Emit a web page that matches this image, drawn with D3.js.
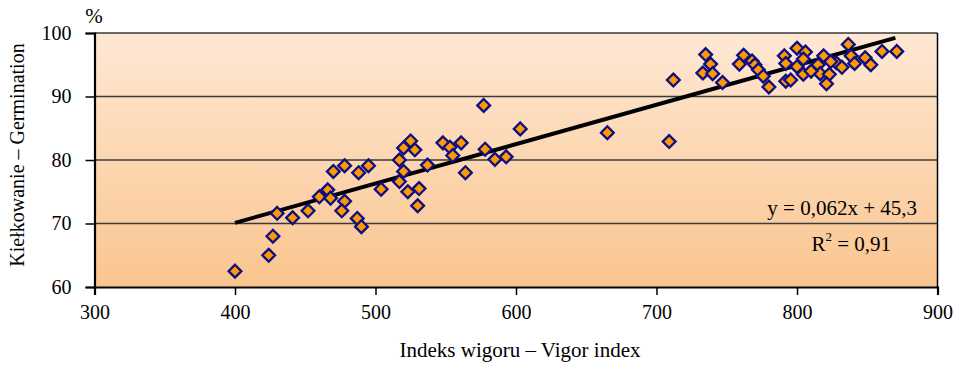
<!DOCTYPE html>
<html>
<head>
<meta charset="utf-8">
<script src="https://cdn.jsdelivr.net/npm/d3@7"></script>
<style>
  body { margin: 0; background: #fff; }
</style>
</head>
<body>
<svg id="chart" width="960" height="369"></svg>
<script>
// Vigor index (x) and germination % (y)
const vigor = [
  400, 424, 427, 430, 441, 452, 460, 466, 468, 470, 478, 478, 476, 487, 490,
  488, 495, 504, 517, 520, 525, 528, 520, 517, 523, 531, 530, 537, 548, 561,
  553, 555, 564, 577, 578, 585, 593, 603, 665, 709, 712,
  735, 738.5, 733, 740, 747, 762, 759, 768, 770, 772.5, 776, 780, 791, 792,
  792, 800, 806, 804.5, 795.5, 804.5, 800, 815, 816.5, 819, 823, 821, 828,
  832, 836.5, 838.5, 841, 848.5, 852.5, 860.5, 871, 824, 810
];
const germination = [
  62.5, 65.0, 68.0, 71.6, 70.9, 72.0, 74.2, 75.3, 74.0, 78.2, 79.1, 73.5, 72.0, 70.8, 69.5,
  78.0, 79.1, 75.4, 80.0, 81.9, 83.0, 81.6, 78.2, 76.6, 75.0, 75.5, 72.8, 79.2, 82.7, 82.7,
  82.0, 80.7, 78.0, 88.6, 81.7, 80.1, 80.5, 84.9, 84.3, 82.9, 92.6,
  96.6, 95.1, 93.7, 93.6, 92.2, 96.5, 95.1, 95.6, 95.0, 94.2, 93.2, 91.5, 96.4, 95.2,
  92.4, 97.6, 97.0, 95.9, 92.6, 93.5, 94.7, 95.0, 93.6, 96.4, 93.5, 92.0, 95.3,
  94.6, 98.2, 96.4, 95.2, 96.1, 95.0, 97.1, 97.1, 95.5, 94.0
];
const xTicks = [300, 400, 500, 600, 700, 800, 900];
const yTicks = [60, 70, 80, 90, 100];
const trend = { slope: 0.062, intercept: 45.3, from: 400, to: 870 };
const eqLabel = "y = 0,062x + 45,3";

const serif = 'Liberation Serif';
const svg = d3.select('#chart');
const plotLeft = 94.5, plotRight = 937.5, plotTop = 33, plotBottom = 287;

const x = d3.scaleLinear().domain([300, 900]).range([plotLeft, plotRight]);
const y = d3.scaleLinear().domain([60, 100]).range([plotBottom, plotTop]);

// peach background gradient
const grad = svg.append('defs').append('linearGradient')
    .attr('id', 'bg').attr('x1', 0).attr('y1', 0).attr('x2', 0).attr('y2', 1);
grad.append('stop').attr('offset', '0%').attr('stop-color', '#fee8d4');
grad.append('stop').attr('offset', '100%').attr('stop-color', '#fac58f');

svg.append('rect')
    .attr('x', plotLeft).attr('y', plotTop)
    .attr('width', plotRight - plotLeft).attr('height', plotBottom - plotTop)
    .attr('fill', 'url(#bg)');

// horizontal grid lines
svg.append('g').selectAll('line')
    .data(yTicks.filter(d => d > 60))
    .join('line')
    .attr('x1', plotLeft).attr('x2', plotRight)
    .attr('y1', d => y(d)).attr('y2', d => y(d))
    .attr('stroke', '#3a3a3a').attr('stroke-width', 1.5);

// right border
svg.append('line')
    .attr('x1', plotRight).attr('x2', plotRight).attr('y1', plotTop).attr('y2', plotBottom)
    .attr('stroke', '#000').attr('stroke-width', 1.5);

// axes
const xAxis = svg.append('g')
    .attr('transform', 'translate(0,' + plotBottom + ')')
    .call(d3.axisBottom(x).tickValues(xTicks).tickSize(8).tickPadding(10).tickFormat(d3.format('d')));
const yAxis = svg.append('g')
    .attr('transform', 'translate(' + plotLeft + ',0)')
    .call(d3.axisLeft(y).tickValues(yTicks).tickSize(9).tickPadding(14).tickFormat(d3.format('d')));

[xAxis, yAxis].forEach(a => {
  a.attr('font-family', serif).attr('font-size', 20);
  a.select('.domain').attr('stroke', '#000').attr('stroke-width', 2.2);
  a.selectAll('.tick line').attr('stroke', '#000').attr('stroke-width', 1.5);
  a.selectAll('.tick text').attr('fill', '#000');
});

// trend line
svg.append('line')
    .attr('x1', x(trend.from)).attr('y1', y(trend.slope * trend.from + trend.intercept))
    .attr('x2', x(trend.to)).attr('y2', y(trend.slope * trend.to + trend.intercept))
    .attr('stroke', '#000').attr('stroke-width', 4);

// diamond markers
const pts = vigor.map((v, i) => ({ v: v, g: germination[i] }));
svg.append('g').selectAll('path')
    .data(pts)
    .join('path')
    .attr('transform', d => 'translate(' + x(d.v) + ',' + y(d.g) + ')')
    .attr('d', 'M0,-6.4L6.4,0L0,6.4L-6.4,0Z')
    .attr('fill', '#ff9900')
    .attr('stroke', '#0d0d85')
    .attr('stroke-width', 2.3);

// all labels in one serif group
const labels = svg.append('g')
    .attr('font-family', serif)
    .attr('font-size', 21)
    .attr('fill', '#000');

// equation labels
labels.append('text')
    .attr('x', 917).attr('y', 215)
    .attr('text-anchor', 'end')
    .text(eqLabel);

const r2 = labels.append('text')
    .attr('x', 891).attr('y', 251)
    .attr('text-anchor', 'end');
r2.append('tspan').text('R');
r2.append('tspan').attr('dy', -10).attr('font-size', 13).text('2');
r2.append('tspan').attr('dy', 10).text(' = 0,91');

// axis titles
labels.append('text')
    .attr('x', 94).attr('y', 23)
    .attr('text-anchor', 'middle')
    .text('%');

labels.append('text')
    .attr('transform', 'translate(24,155)rotate(-90)')
    .attr('text-anchor', 'middle')
    .attr('font-size', 20)
    .text('Kiełkowanie – Germination');

labels.append('text')
    .attr('x', 520).attr('y', 357)
    .attr('text-anchor', 'middle')
    .text('Indeks wigoru – Vigor index');
</script>
</body>
</html>
